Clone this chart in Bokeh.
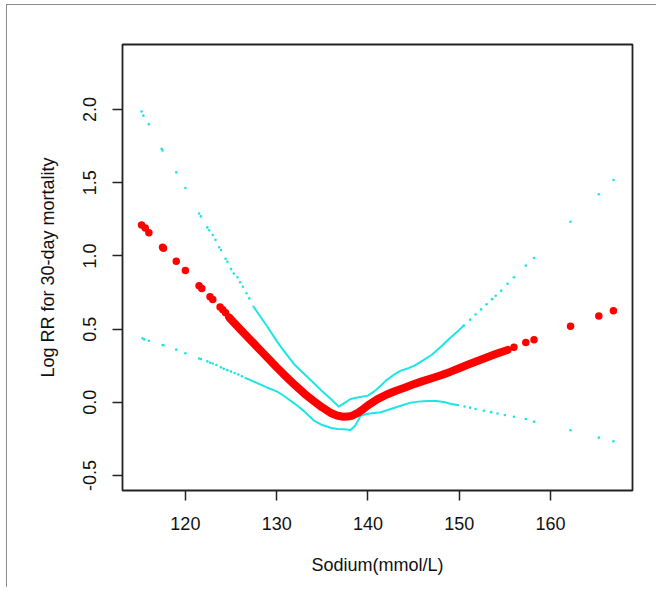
import numpy as np
from bokeh.plotting import figure
from bokeh.models import Range1d, FixedTicker
from bokeh.embed import file_html
from bokeh.resources import INLINE

# ---------------- data ----------------
x_ticks = [120, 130, 140, 150, 160]
y_ticks = [-0.5, 0.0, 0.5, 1.0, 1.5, 2.0]
y_tick_labels = ["-0.5", "0.0", "0.5", "1.0", "1.5", "2.0"]
x_title = "Sodium(mmol/L)"
y_title = "Log RR for 30-day mortality"

# fitted log RR: isolated observations (left & right tails)
fit_sparse_x = [115.2, 115.6, 116.0, 117.5, 117.6, 119.0, 120.0, 121.5, 121.8,
                122.7, 123.0, 123.8, 124.1, 124.4,
                156.0, 157.3, 158.2, 162.2, 165.3, 166.9]
fit_sparse_y = [1.212, 1.191, 1.159, 1.059, 1.052, 0.963, 0.900, 0.797, 0.777,
                0.722, 0.703, 0.652, 0.632, 0.612,
                0.376, 0.408, 0.428, 0.519, 0.590, 0.626]
# fitted log RR: dense part of the observations
fit_x = [124.8, 125.0, 126.0, 127.0, 128.0, 129.0, 130.0, 131.0, 132.0, 133.0,
         134.0, 135.0, 136.0, 136.6, 137.2, 137.8, 138.3, 139.0, 139.5, 140.0,
         141.0, 142.0, 143.0, 144.0, 145.0, 146.0, 147.0, 148.0, 149.0, 150.0,
         151.0, 152.0, 153.0, 154.0, 155.3]
fit_y = [0.580, 0.566, 0.500, 0.435, 0.370, 0.305, 0.240, 0.178, 0.118, 0.062,
         0.012, -0.035, -0.075, -0.090, -0.098, -0.097, -0.090, -0.068, -0.045, -0.020,
         0.020, 0.052, 0.078, 0.100, 0.123, 0.145, 0.165, 0.185, 0.208, 0.233,
         0.258, 0.283, 0.307, 0.330, 0.358]

# upper 95% CI
upper_sparse_x = [115.2, 115.4, 116.0, 117.4, 117.5, 119.0, 120.0, 121.5, 121.7,
                  122.4, 122.6, 123.0, 123.3, 123.7, 123.9, 124.4, 124.6, 125.0,
                  125.3, 125.7, 126.0, 126.3, 126.7, 127.0,
                  150.5, 151.2, 151.8, 152.4, 153.0, 153.6, 154.0, 154.6, 155.3,
                  156.0, 157.3, 158.2, 162.2, 165.3, 166.9]
upper_sparse_y = [1.986, 1.958, 1.900, 1.731, 1.720, 1.571, 1.464, 1.290, 1.270,
                  1.195, 1.175, 1.143, 1.110, 1.059, 1.040, 0.980, 0.960, 0.910,
                  0.880, 0.854, 0.820, 0.790, 0.745, 0.710,
                  0.524, 0.565, 0.600, 0.635, 0.670, 0.705, 0.728, 0.763, 0.810,
                  0.854, 0.934, 0.986, 1.234, 1.421, 1.519]
upper_x = [127.4, 128.0, 129.0, 130.0, 130.5, 131.0, 132.0, 133.0, 134.0, 135.0,
           136.0, 136.8, 137.4, 138.1, 139.0, 140.0, 140.7, 141.4, 142.0, 143.0,
           143.6, 144.5, 145.1, 146.0, 147.0, 148.0, 149.0, 150.0, 150.5]
upper_y = [0.660, 0.605, 0.515, 0.420, 0.376, 0.335, 0.255, 0.195, 0.135, 0.075,
           0.020, -0.029, -0.005, 0.023, 0.035, 0.046, 0.075, 0.114, 0.150, 0.195,
           0.217, 0.235, 0.251, 0.285, 0.325, 0.380, 0.440, 0.495, 0.524]

# lower 95% CI
lower_sparse_x = [115.3, 115.5, 116.0, 117.5, 117.6, 119.0, 120.0, 121.5, 121.7,
                  122.4, 122.7, 123.0, 123.4, 123.9, 124.2, 124.6, 125.0, 125.4,
                  125.8, 126.2,
                  150.6, 151.2, 151.8, 152.7, 153.5, 154.2, 155.0, 156.0, 157.3,
                  158.2, 162.2, 165.3, 166.9]
lower_sparse_y = [0.437, 0.430, 0.421, 0.392, 0.390, 0.360, 0.335, 0.300, 0.296,
                  0.280, 0.270, 0.265, 0.255, 0.239, 0.230, 0.220, 0.210, 0.200,
                  0.190, 0.178,
                  -0.028, -0.036, -0.045, -0.057, -0.067, -0.076, -0.086, -0.098, -0.114,
                  -0.132, -0.191, -0.241, -0.266]
lower_x = [126.5, 127.0, 128.0, 129.0, 130.0, 130.5, 131.0, 132.0, 133.0, 134.1,
           135.0, 136.0, 136.7, 137.4, 138.1, 138.6, 139.2, 140.0, 141.4, 142.5,
           143.6, 144.5, 145.5, 146.5, 147.5, 148.5, 149.1, 150.0]
lower_y = [0.168, 0.155, 0.128, 0.100, 0.075, 0.057, 0.035, -0.010, -0.060, -0.125,
           -0.155, -0.175, -0.182, -0.183, -0.189, -0.160, -0.091, -0.078, -0.068, -0.045,
           -0.023, -0.005, 0.005, 0.010, 0.010, 0.000, -0.011, -0.020]

# ---------------- styling ----------------
RED = "#ff0000"
CYAN = "#1ae6e6"
FONT = "Liberation Sans"

p = figure(width=656, height=587, output_backend="svg", toolbar_location=None,
           x_range=Range1d(113.11, 168.99), y_range=Range1d(-0.602, 2.444),
           min_border_left=122, min_border_right=24, min_border_top=44,
           min_border_bottom=97)
# thin grey frame around the whole picture (left and top edges)
p.border_fill_color = None
p.styles = {"box-shadow": "inset 6px 4px 0 0 #ffffff, inset 7px 5px 0 0 #8c8c8c",
            "background-color": "white"}
p.grid.visible = False
p.background_fill_color = "white"
p.outline_line_color = "#222222"
p.outline_line_width = 1.8

for ax in (p.xaxis[0], p.yaxis[0]):
    ax.axis_line_color = None
    ax.major_tick_in = 0
    ax.major_tick_out = 10
    ax.major_tick_line_color = "#222222"
    ax.major_tick_line_width = 1.5
    ax.minor_tick_line_color = None
    ax.major_label_text_font = FONT
    ax.major_label_text_font_size = "18px"
    ax.major_label_text_color = "#111111"
    ax.axis_label_text_font = FONT
    ax.axis_label_text_font_size = "18px"
    ax.axis_label_text_font_style = "normal"
    ax.axis_label_text_color = "#111111"

p.xaxis.ticker = FixedTicker(ticks=x_ticks)
p.xaxis.major_label_standoff = 16
p.xaxis.axis_label = x_title
p.xaxis.axis_label_standoff = 22

p.yaxis.ticker = FixedTicker(ticks=y_ticks)
p.yaxis.major_label_overrides = {t: s for t, s in zip(y_ticks, y_tick_labels)}
p.yaxis.major_label_orientation = "vertical"
p.yaxis.major_label_standoff = 16
p.yaxis.axis_label = y_title
p.yaxis.axis_label_standoff = 23

# CI curves
p.line(upper_x, upper_y, line_color=CYAN, line_width=2, line_join="round")
p.line(lower_x, lower_y, line_color=CYAN, line_width=2, line_join="round")
p.scatter(upper_sparse_x, upper_sparse_y, size=2.6, color=CYAN, line_width=0)
p.scatter(lower_sparse_x, lower_sparse_y, size=2.6, color=CYAN, line_width=0)

# fitted curve
p.line(fit_x, fit_y, line_color=RED, line_width=8, line_join="round", line_cap="round")
p.scatter(fit_sparse_x, fit_sparse_y, size=7.5, color=RED, line_width=0)

open("out.html", "w").write(file_html(p, INLINE))
